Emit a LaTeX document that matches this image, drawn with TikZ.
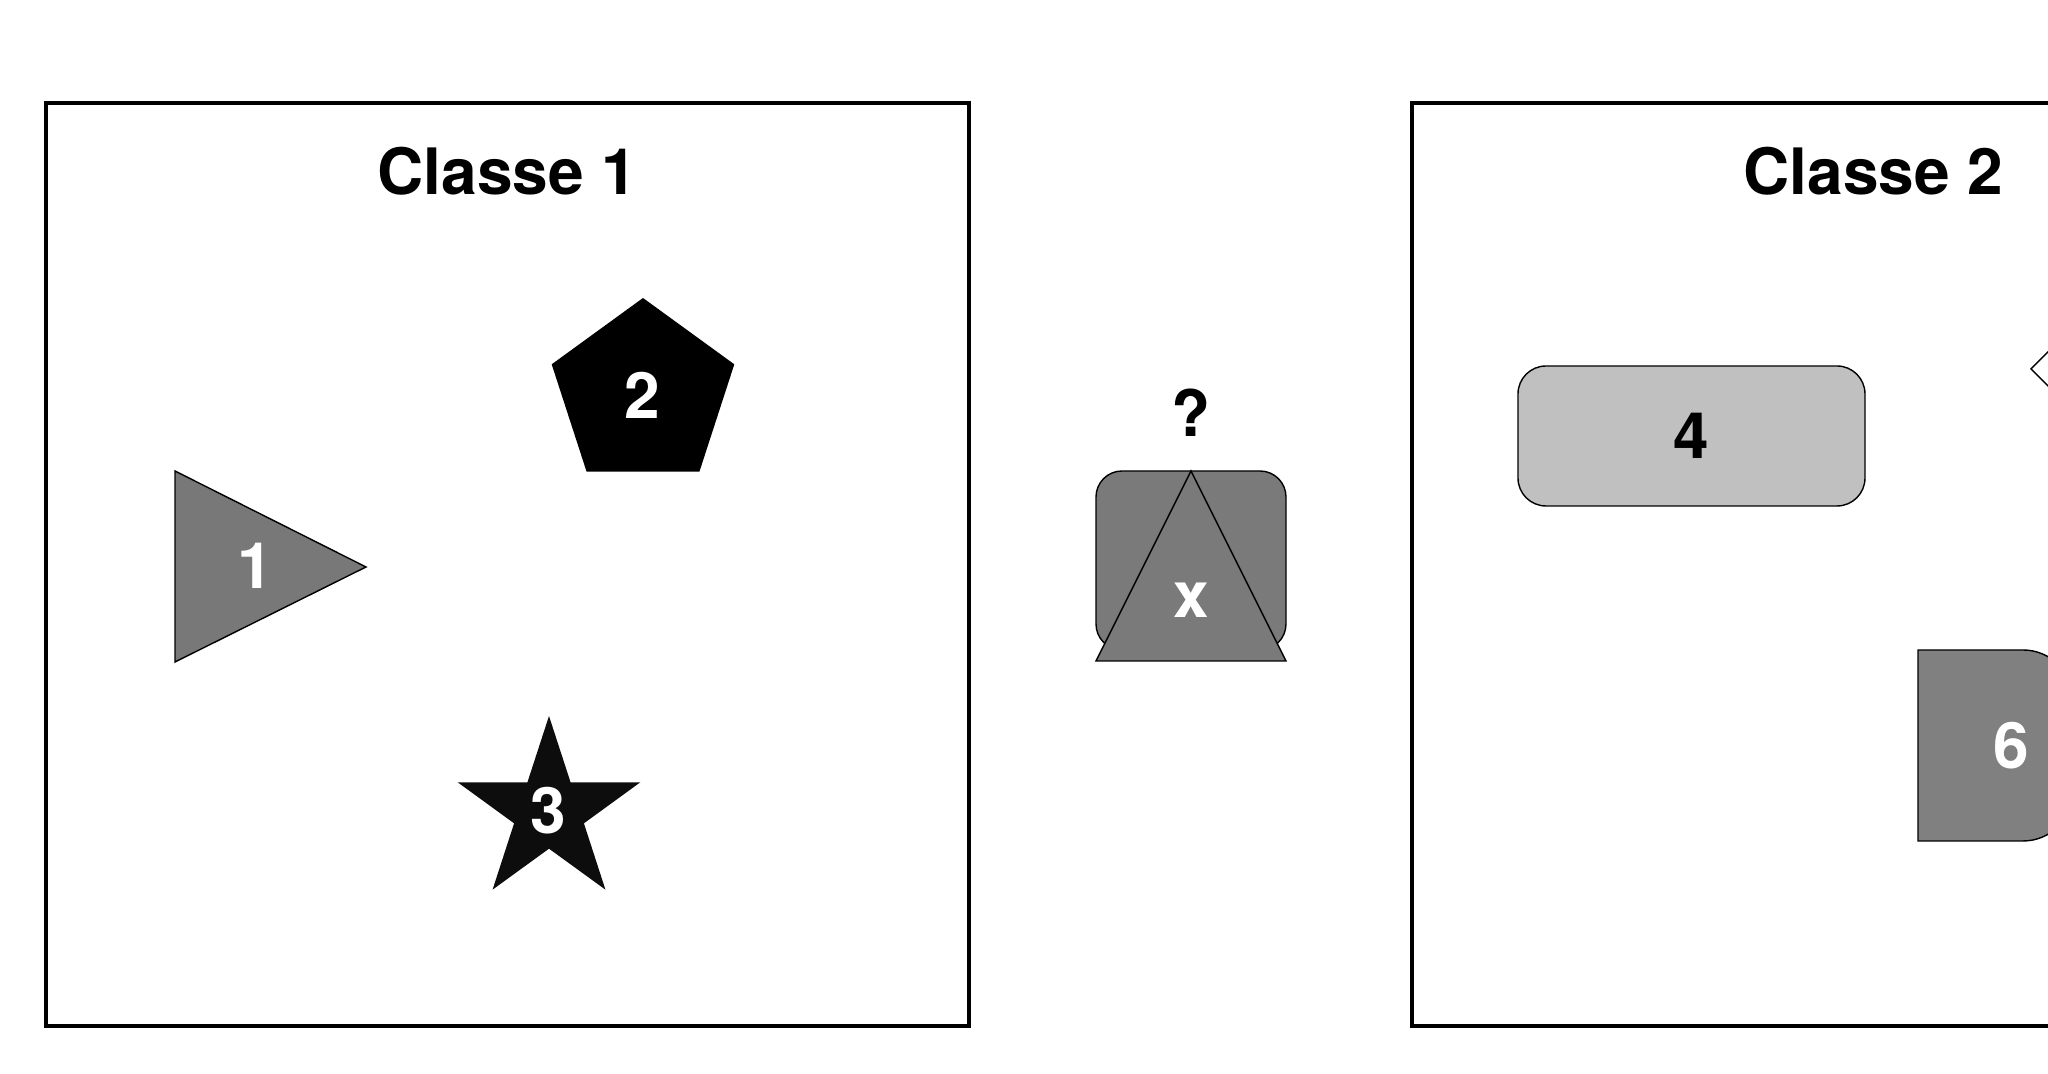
\documentclass[tikz,border=0pt]{standalone}
\usepackage{fontspec}
\setmainfont{TeX Gyre Heros}
\definecolor{trigray}{HTML}{787878}
\definecolor{qgray}{HTML}{7A7A7A}
\definecolor{pale}{HTML}{C0C0C0}
\definecolor{darkgray6}{HTML}{808080}
\definecolor{starblack}{HTML}{0D0D0D}
\begin{document}
\begin{tikzpicture}[
  frame/.style={draw,line width=0.9pt},
  piece/.style={draw,line width=0.4pt},
  num/.style={font=\bfseries\fontsize{18.2}{20}\selectfont,inner sep=0pt},
  title/.style={font=\bfseries\fontsize{18.2}{20}\selectfont,inner sep=0pt}]
\useasboundingbox (0,0) rectangle (20.48,10.74);
\clip (0,0) rectangle (20.48,10.74);
\draw[frame] (0.46,0.48) rectangle (9.69,9.71);
\draw[frame] (14.12,0.48) rectangle (23.35,9.71);
\node[title] (c1) at (5.075,9.03) {Classe 1};
\node[title] (c2) at (18.735,9.03) {Classe 2};
% classe 1
\filldraw[piece,fill=trigray] (1.75,6.03) -- (3.66,5.07) -- (1.75,4.12) -- cycle;
\node[num,white] (n1) at (2.55,5.08) {1};
\fill[black,shift={(6.43,6.80)}] (90:0.96) -- (162:0.96) -- (234:0.96) -- (306:0.96) -- (18:0.96) -- cycle;
\node[num,white] (n2) at (6.42,6.79) {2};
\fill[starblack,shift={(5.49,2.62)}] (90:0.96) -- (126:0.367) -- (162:0.96) -- (198:0.367) -- (234:0.96)
  -- (270:0.367) -- (306:0.96) -- (342:0.367) -- (18:0.96) -- (54:0.367) -- cycle;
\node[num,white] (n3) at (5.48,2.63) {3};
% inconnu
\node[title] (q) at (11.91,6.61) {?};
\filldraw[piece,fill=qgray,rounded corners=0.26cm] (10.96,4.24) rectangle (12.86,6.03);
\filldraw[piece,fill=qgray] (11.91,6.03) -- (12.86,4.13) -- (10.96,4.13) -- cycle;
\node[num,white] (x) at (11.91,4.74) {x};
% classe 2
\filldraw[piece,fill=pale,rounded corners=0.28cm] (15.18,5.68) rectangle (18.65,7.08);
\node[num] (n4) at (16.91,6.38) {4};
\filldraw[piece,fill=white] (20.31,7.05) -- (21.2,7.94) -- (22.09,7.05) -- (21.2,6.16) -- cycle;
\filldraw[piece,fill=darkgray6] (19.18,2.33) -- (19.18,4.24) -- (20.23,4.24) arc[start angle=90,end angle=0,radius=0.5]
  -- (20.73,2.83) arc[start angle=0,end angle=-90,radius=0.5] -- cycle;
\node[num,white] (n6) at (20.11,3.28) {6};
\end{tikzpicture}
\end{document}
